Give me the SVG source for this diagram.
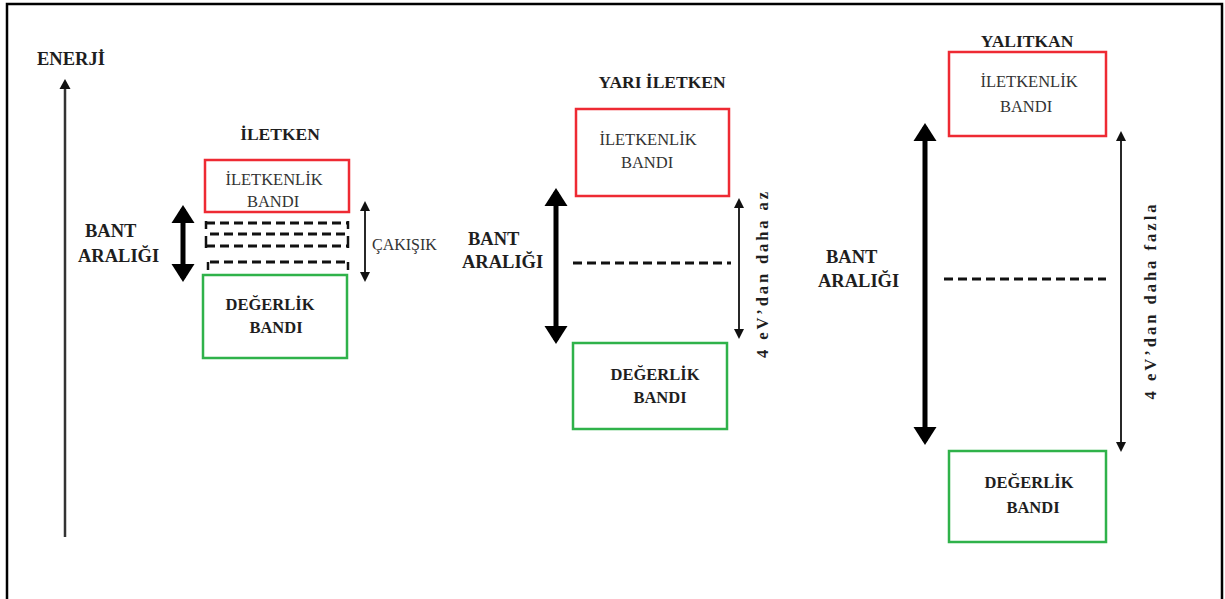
<svg xmlns="http://www.w3.org/2000/svg" width="1225" height="599" viewBox="0 0 1225 599">
  <style>
    text { font-family: "Liberation Serif", "Times New Roman", serif; fill: #1e1e1e; }
    .title { font-size: 17.5px; font-weight: bold; }
    .gap { font-size: 18.5px; font-weight: bold; }
    .cb { font-size: 16.5px; fill: #333; }
    .vb { font-size: 16.5px; font-weight: bold; }
    .note { font-size: 16.5px; font-weight: bold; }
    .cond { fill: none; stroke: #ee2a33; stroke-width: 2.5; }
    .val { fill: none; stroke: #2fb24a; stroke-width: 2.5; }
    .dash { fill: none; stroke: #111; stroke-width: 3; stroke-dasharray: 9 5; }
    .thick { stroke: #000; stroke-width: 5; marker-start: url(#bigHead); marker-end: url(#bigHead); }
    .thin { stroke: #111; stroke-width: 1.8; marker-start: url(#smallHead); marker-end: url(#smallHead); }
  </style>
  <defs>
    <marker id="bigHead" markerUnits="userSpaceOnUse" markerWidth="24" markerHeight="24" viewBox="0 -12 18 24" refX="14" refY="0" orient="auto-start-reverse">
      <path d="M0,-11.5 L18,0 L0,11.5 Z" fill="#000"/>
    </marker>
    <marker id="smallHead" markerUnits="userSpaceOnUse" markerWidth="12" markerHeight="12" viewBox="0 -6 10 12" refX="8" refY="0" orient="auto-start-reverse">
      <path d="M0,-5 L10,0 L0,5 Z" fill="#111"/>
    </marker>
    <marker id="axisHead" markerUnits="userSpaceOnUse" markerWidth="12" markerHeight="12" viewBox="0 -6 10 12" refX="7" refY="0" orient="auto">
      <path d="M0,-5.5 L10,0 L0,5.5 Z" fill="#111"/>
    </marker>
  </defs>

  <rect x="0" y="0" width="1225" height="599" fill="#fff"/>
  <!-- frame -->
  <path d="M7,602 V4 H1222 V602" fill="none" stroke="#000" stroke-width="2.5"/>

  <!-- energy axis -->
  <g id="energy-axis">
    <text class="gap" x="37" y="65">ENERJİ</text>
    <line x1="65" y1="537" x2="65" y2="82" stroke="#333" stroke-width="2.5" marker-end="url(#axisHead)"/>
  </g>

  <!-- conductor -->
  <g id="conductor">
    <text class="title" x="280" y="140" text-anchor="middle">İLETKEN</text>
    <g id="conductor-cb">
      <rect class="cond" x="205" y="160" width="144" height="52"/>
      <text class="cb" x="274" y="185" text-anchor="middle">İLETKENLİK</text>
      <text class="cb" x="273" y="207" text-anchor="middle">BANDI</text>
    </g>
    <g id="conductor-overlap">
      <line class="dash" x1="206" y1="223" x2="348" y2="223"/>
      <line class="dash" x1="210" y1="234" x2="348" y2="234"/>
      <line class="dash" x1="206" y1="246" x2="348" y2="246"/>
      <line class="dash" x1="210" y1="262" x2="348" y2="262"/>
      <path d="M206,221 V229 M206,236 V248 M208,262 V270 M348,221 V229 M348,236 V248 M348,262 V270" stroke="#111" stroke-width="2.5" fill="none"/>
    </g>
    <g id="conductor-vb">
      <rect class="val" x="203" y="275" width="144" height="83"/>
      <text class="vb" x="270" y="310" text-anchor="middle">DEĞERLİK</text>
      <text class="vb" x="276" y="333" text-anchor="middle">BANDI</text>
    </g>
    <text class="gap" x="85" y="237">BANT</text>
    <text class="gap" x="78" y="262">ARALIĞI</text>
    <text class="cb" x="372" y="250" style="font-size:16px">ÇAKIŞIK</text>
  </g>

  <!-- semiconductor -->
  <g id="semiconductor">
    <text class="title" x="662" y="88" text-anchor="middle">YARI İLETKEN</text>
    <g id="semi-cb">
      <rect class="cond" x="576" y="109" width="153" height="87"/>
      <text class="cb" x="648" y="145" text-anchor="middle">İLETKENLİK</text>
      <text class="cb" x="647" y="168" text-anchor="middle">BANDI</text>
    </g>
    <line class="dash" x1="573" y1="263" x2="731" y2="263"/>
    <g id="semi-vb">
      <rect class="val" x="573" y="343" width="154" height="86"/>
      <text class="vb" x="655" y="380" text-anchor="middle">DEĞERLİK</text>
      <text class="vb" x="660" y="403" text-anchor="middle">BANDI</text>
    </g>
    <text class="gap" x="468" y="245">BANT</text>
    <text class="gap" x="462" y="268">ARALIĞI</text>
    <text class="note" transform="translate(768,275) rotate(-90)" x="0" y="0" text-anchor="middle" textLength="166" lengthAdjust="spacing">4 eV’dan daha az</text>
  </g>

  <!-- insulator -->
  <g id="insulator">
    <text class="title" x="1027" y="47" text-anchor="middle">YALITKAN</text>
    <g id="ins-cb">
      <rect class="cond" x="949" y="52" width="157" height="84"/>
      <text class="cb" x="1029" y="87" text-anchor="middle">İLETKENLİK</text>
      <text class="cb" x="1026" y="112" text-anchor="middle">BANDI</text>
    </g>
    <line class="dash" x1="944" y1="279" x2="1106" y2="279"/>
    <g id="ins-vb">
      <rect class="val" x="949" y="451" width="157" height="91"/>
      <text class="vb" x="1029" y="488" text-anchor="middle">DEĞERLİK</text>
      <text class="vb" x="1033" y="513" text-anchor="middle">BANDI</text>
    </g>
    <text class="gap" x="826" y="263">BANT</text>
    <text class="gap" x="818" y="287">ARALIĞI</text>
    <text class="note" transform="translate(1156,302) rotate(-90)" x="0" y="0" text-anchor="middle" textLength="195" lengthAdjust="spacing">4 eV’dan daha fazla</text>
  </g>

  <!-- gap and range arrows -->
  <g id="connectors">
    <line class="thick" x1="183" y1="209" x2="183" y2="278"/>
    <line class="thin" x1="365" y1="203" x2="365" y2="280"/>
    <line class="thick" x1="556" y1="192" x2="556" y2="340"/>
    <line class="thin" x1="739" y1="200" x2="739" y2="337"/>
    <line class="thick" x1="925" y1="127" x2="925" y2="441"/>
    <line class="thin" x1="1121" y1="133" x2="1121" y2="450"/>
  </g>
</svg>
